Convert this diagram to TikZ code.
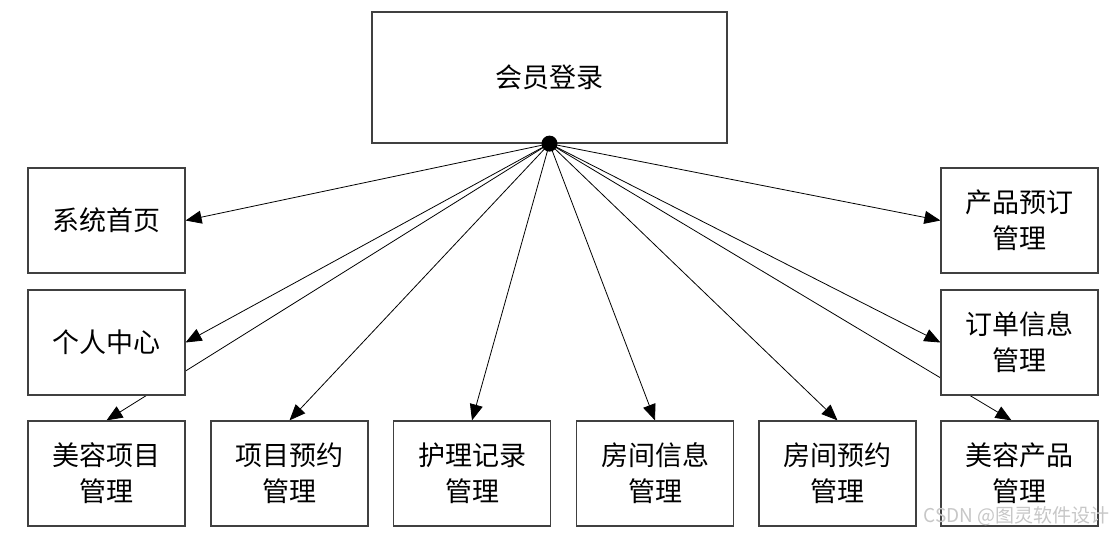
\documentclass[tikz,border=0pt]{standalone}
\usepackage{fontspec}
\newfontfamily\cjk{Noto Sans CJK SC}
\usetikzlibrary{arrows.meta}
\begin{document}
\begin{tikzpicture}[x=1pt,y=-1pt,
  box/.style={draw=black!75,line width=1.2pt,fill=white,minimum width=157pt,minimum height=105pt,inner sep=0pt,align=center,font=\cjk\fontsize{27}{36}\selectfont},
  ghost/.style={box,draw=none,fill=none},
  conn/.style={line width=0.8pt,-{Triangle[length=16pt,width=13pt]}}]
\useasboundingbox (0,0) rectangle (1114,536);
% node positions
\path (549.5,77.5) node[ghost,minimum width=355pt,minimum height=131pt] (top) {};
\coordinate (hub) at (top.south);
\path (106.5,220.5) node[ghost] (sys) {};
\path (106.5,342.5) node[ghost] (grzx) {};
\path (1019.5,220.5) node[ghost] (cpyd) {};
\path (1019.5,342.5) node[ghost] (ddxx) {};
\path (106.5,473.5) node[ghost] (mrxm) {};
\path (289.5,473.5) node[ghost] (xmyy) {};
\path (472,473.5) node[ghost] (hljl) {};
\path (655,473.5) node[ghost] (fjxx) {};
\path (837.5,473.5) node[ghost] (fjyy) {};
\path (1019.5,473.5) node[ghost] (mrcp) {};
% connectors
\draw[conn] (hub) -- (sys.east);
\draw[conn] (hub) -- (grzx.east);
\draw[conn] (hub) -- (mrxm.north);
\draw[conn] (hub) -- (xmyy.north);
\draw[conn] (hub) -- (hljl.north);
\draw[conn] (hub) -- (fjxx.north);
\draw[conn] (hub) -- (fjyy.north);
\draw[conn] (hub) -- ([xshift=-8pt]mrcp.north);
\draw[conn] (hub) -- (cpyd.west);
\draw[conn] (hub) -- (ddxx.west);
% boxes drawn over lines
\node[box,minimum width=355pt,minimum height=131pt] at (top) {会员登录};
\node[box] at (sys) {系统首页};
\node[box] at (grzx) {个人中心};
\node[box] at (cpyd) {产品预订\\管理};
\node[box] at (ddxx) {订单信息\\管理};
\node[box] at (mrxm) {美容项目\\管理};
\node[box] at (xmyy) {项目预约\\管理};
\node[box] at (hljl) {护理记录\\管理};
\node[box] at (fjxx) {房间信息\\管理};
\node[box] at (fjyy) {房间预约\\管理};
\node[box] at (mrcp) {美容产品\\管理};
\fill (hub) circle (8pt);
\node[anchor=east,text=black!22,font=\cjk\fontsize{19}{21}\selectfont,inner sep=0pt] (wm) at (1110,516) {CSDN @图灵软件设计};
\end{tikzpicture}
\end{document}
